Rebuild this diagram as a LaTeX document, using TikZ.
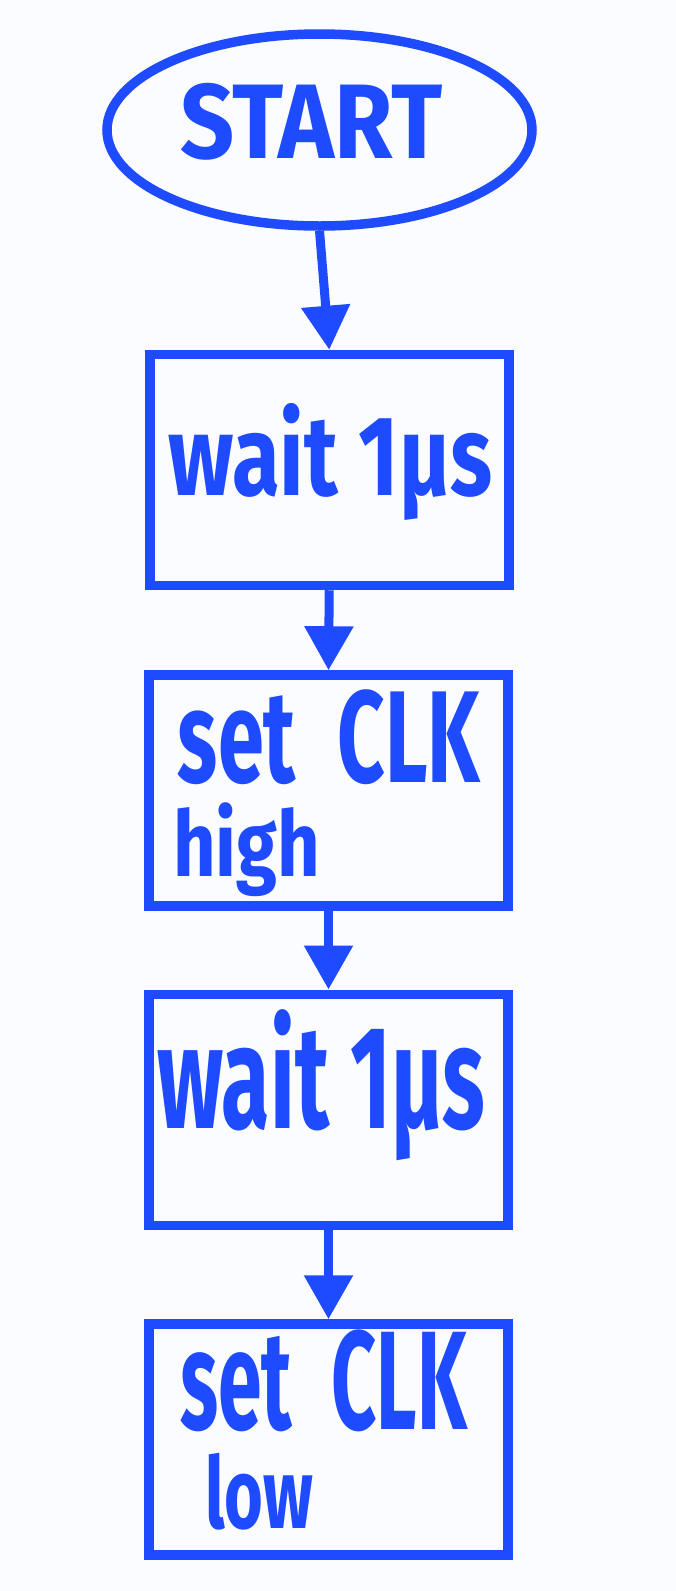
\documentclass[tikz,border=0pt]{standalone}
\usepackage{fontspec}
\usepackage{graphicx}
\usetikzlibrary{shapes.geometric,arrows.meta}
\newfontfamily\hand{Fira Sans}
\definecolor{pen}{RGB}{30,75,255}
\definecolor{paper}{RGB}{250,252,255}
\newcommand{\twolines}[7]{\vbox{\offinterlineskip\hbox{\kern#1pt#2}\kern#3pt\hbox{\kern#4pt#5}}}
\begin{document}
\begin{tikzpicture}[x=1pt,y=-1pt,
  stepbox/.style={draw=pen, line width=9.5pt, rectangle, minimum width=359pt, minimum height=231pt, inner sep=0pt},
  oval/.style={draw=pen, line width=9.5pt, ellipse, minimum width=425pt, minimum height=192pt, inner sep=0pt},
  flow/.style={draw=pen, line width=9pt, -{Triangle[length=44pt,width=47pt]}},
  hw/.style={text=pen, anchor=north west, inner sep=0pt, outer sep=0pt, font=\hand\bfseries}]
\fill[paper] (0,0) rectangle (676,1591);
\useasboundingbox (0,0) rectangle (676,1591);

\node[oval] (start) at (319.5,130) {};
\node[stepbox] (b1) at (329.25,470) {};
\node[stepbox] (b2) at (328.5,790.5) {};
\node[stepbox] (b3) at (328.5,1109.75) {};
\node[stepbox] (b4) at (328.5,1439.5) {};

\node[hw] (tstart) at (180,83) {\resizebox*{262pt}{77pt}{START}};
\node[hw] (t1) at (168,403) {\resizebox*{324pt}{117pt}{wait 1µs}};
\node[hw] (t2) at (173,690) {\vbox{\offinterlineskip
  \hbox{\kern5pt\resizebox*{302pt}{95pt}{set\hspace{0.5em}CLK}}\kern18pt
  \hbox{\resizebox*{147pt}{94pt}{high}}}};
\node[hw] (t3) at (157,1010) {\resizebox*{328pt}{151pt}{wait 1µs}};
\node[hw] (t4) at (180,1330) {\vbox{\offinterlineskip
  \hbox{\resizebox*{287pt}{102pt}{set\hspace{0.5em}CLK}}\kern21pt
  \hbox{\kern25pt\resizebox*{108pt}{77pt}{low}}}};

\draw[flow] (start.south) -- (b1.north);
\draw[flow] (b1.south) -- (b2.north);
\draw[flow] (b2.south) -- (b3.north);
\draw[flow] (b3.south) -- (b4.north);
\end{tikzpicture}
\end{document}
